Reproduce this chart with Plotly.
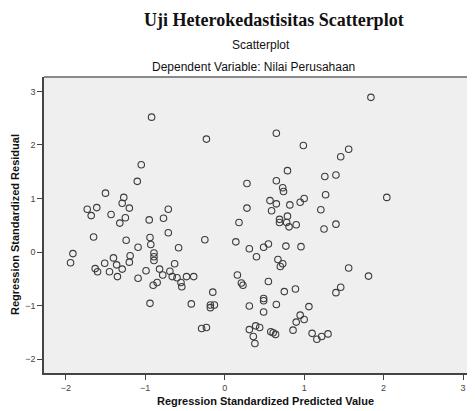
import plotly.graph_objects as go

# Regression standardized predicted values (x) and residuals (y)
pred = [-0.92, -1.05, -1.10, -1.50, -1.27, -1.29, -1.73, -1.61, -1.20, -1.68,
        -1.43, -1.25, -1.32, -0.95, -0.77, -0.71, -0.71, -1.65, -1.24, -0.94,
        -0.93, -1.09, -1.91, -1.94, -0.89, -0.89, -0.89, -1.19, -1.20, -1.40,
        -1.51, -1.36, -1.29, -1.63, -1.60, -1.45, -1.35, -1.09, -0.99, -0.82,
        -0.78, -0.85, -0.90, -0.69, -0.94, -0.58, -0.63, -0.66, -0.60, -0.55,
        -0.54, -0.48, -0.39, -0.42, -0.25, -0.23, -0.15, -0.18, -0.13, -0.18,
        -0.29, -0.23, 0.28, 0.28, 0.18, 0.14, 0.31, 0.49, 0.55, 0.40,
        0.16, 0.21, 0.23, 0.55, 0.31, 0.49, 0.49, 0.49, 0.31, 0.39,
        0.44, 0.36, 0.38, 0.65, 0.99, 1.56, 1.46, 0.79, 0.65, 1.26,
        1.40, 0.73, 0.74, 1.27, 0.57, 0.65, 0.59, 0.82, 0.95, 1.00,
        1.21, 0.79, 0.69, 0.69, 0.78, 0.81, 0.90, 1.25, 1.40, 0.77,
        0.96, 1.84, 2.04, 0.67, 0.73, 0.70, 1.56, 1.81, 0.75, 0.89,
        1.40, 1.46, 0.65, 1.06, 0.95, 1.00, 0.90, 0.86, 0.58, 0.61,
        0.64, 1.10, 1.16, 1.22, 1.30]
resid = [2.52, 1.63, 1.32, 1.10, 1.02, 0.91, 0.80, 0.83, 0.82, 0.68,
         0.70, 0.64, 0.54, 0.60, 0.63, 0.80, 0.36, 0.28, 0.22, 0.27,
         0.14, 0.09, -0.03, -0.20, -0.02, -0.09, -0.16, -0.07, -0.19, -0.11,
         -0.21, -0.24, -0.32, -0.31, -0.37, -0.37, -0.46, -0.49, -0.35, -0.32,
         -0.43, -0.57, -0.62, -0.36, -0.96, 0.08, -0.22, -0.46, -0.48, -0.57,
         -0.65, -0.46, -0.46, -0.97, 0.23, 2.11, -0.75, -0.99, -0.99, -1.04,
         -1.43, -1.41, 1.28, 0.82, 0.55, 0.19, 0.06, 0.09, 0.15, -0.09,
         -0.43, -0.58, -0.62, -0.55, -1.01, -0.87, -0.91, -1.12, -1.45, -1.38,
         -1.41, -1.58, -1.71, 2.22, 1.99, 1.92, 1.78, 1.52, 1.33, 1.41,
         1.44, 1.20, 1.13, 1.07, 0.96, 0.90, 0.77, 0.88, 0.93, 1.00,
         0.79, 0.67, 0.61, 0.55, 0.55, 0.47, 0.51, 0.43, 0.52, 0.11,
         0.10, 2.89, 1.02, -0.14, -0.22, -0.27, -0.30, -0.45, -0.74, -0.69,
         -0.76, -0.66, -0.98, -1.02, -1.18, -1.26, -1.31, -1.46, -1.49, -1.51,
         -1.54, -1.52, -1.63, -1.58, -1.53]

x_ticks = [-2, -1, 0, 1, 2, 3]
y_ticks = [-2, -1, 0, 1, 2, 3]

main_title = "Uji Heterokedastisitas Scatterplot"
sub_title1 = "Scatterplot"
sub_title2 = "Dependent Variable: Nilai Perusahaan"
x_title = "Regression Standardized Predicted Value"
y_title = "Regression Standardized Residual"

# page body has an 8px margin; lay the figure out in window coordinates
OFF = 8
WIN_W, WIN_H = 475, 411
W, H = WIN_W - OFF, WIN_H - OFF
left, right, top, bottom = 44, 475, 77, 373   # plot area in window pixels
ml, mr, mt, mb = left - OFF, (WIN_W - right), top - OFF, WIN_H - bottom
pw, ph = W - ml - mr, H - mt - mb


def px(wx):
    return (wx - left) / pw


def py(wy):
    return (bottom - wy) / ph


fig = go.Figure()
fig.add_trace(go.Scatter(
    x=pred, y=resid, mode="markers",
    marker=dict(symbol="circle-open", size=6.5, color="#3c3c3c",
                line=dict(width=1.1, color="#3c3c3c")),
    hoverinfo="x+y", showlegend=False))

fig.update_layout(
    width=W, height=H,
    margin=dict(l=ml, r=mr, t=mt, b=mb, autoexpand=False),
    paper_bgcolor="white",
    plot_bgcolor="#efefef",
    font=dict(family="Liberation Sans, Arial, sans-serif", color="#222"),
    xaxis=dict(range=[-2.274, 3.15], tickvals=x_ticks, ticks="outside",
               ticklen=5, tickcolor="#444", showgrid=False, zeroline=False,
               showline=True, linecolor="#444", linewidth=1.5,
               tickfont=dict(size=9, color="#444"), automargin=False),
    yaxis=dict(range=[-2.261, 3.27], tickvals=y_ticks, ticks="outside",
               ticklen=5, tickcolor="#444", showgrid=False, zeroline=False,
               showline=True, linecolor="#444", linewidth=1.5,
               tickfont=dict(size=9, color="#444"), automargin=False),
    shapes=[dict(type="line", xref="paper", yref="paper", x0=0, x1=1,
                 y0=1, y1=1, line=dict(color="#8a8a8a", width=2))],
)

fig.add_annotation(text="<b>" + main_title + "</b>", xref="paper", yref="paper",
                   x=px(274), y=py(8.5), showarrow=False, borderpad=0,
                   xanchor="center", yanchor="top",
                   font=dict(family="Liberation Serif, Times New Roman, serif",
                             size=18, color="#111"))
fig.add_annotation(text=sub_title1, xref="paper", yref="paper",
                   x=px(261), y=py(45), showarrow=False,
                   xanchor="center", yanchor="middle",
                   font=dict(size=12, color="#111"))
fig.add_annotation(text=sub_title2, xref="paper", yref="paper",
                   x=px(253), y=py(67), showarrow=False,
                   xanchor="center", yanchor="middle",
                   font=dict(size=12, color="#111"))
fig.add_annotation(text="<b>" + x_title + "</b>", xref="paper", yref="paper",
                   x=px(265), y=py(401), showarrow=False,
                   xanchor="center", yanchor="middle",
                   font=dict(size=11, color="#111"))
fig.add_annotation(text="<b>" + y_title + "</b>", xref="paper", yref="paper",
                   x=px(15), y=py(225), textangle=-90, showarrow=False,
                   xanchor="center", yanchor="middle",
                   font=dict(size=11, color="#111"))

fig.write_html("out.html")
